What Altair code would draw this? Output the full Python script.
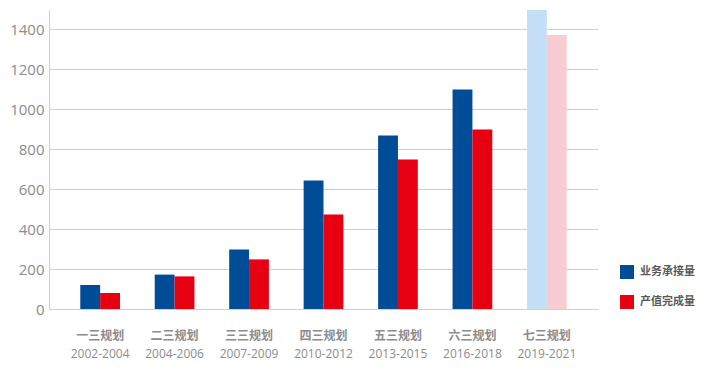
import altair as alt
import pandas as pd

plans = ["一三规划", "二三规划", "三三规划", "四三规划", "五三规划", "六三规划", "七三规划"]
years = ["2002-2004", "2004-2006", "2007-2009", "2010-2012", "2013-2015", "2016-2018", "2019-2021"]
series = ["业务承接量", "产值完成量"]
undertaken = [120, 172, 297, 643, 867, 1097, 1495]
completed = [80, 163, 248, 472, 748, 897, 1370]
forecast = [False, False, False, False, False, False, True]

rows = []
for i, p in enumerate(plans):
    for s, vals in zip(series, [undertaken, completed]):
        key = s + ("_f" if forecast[i] else "")
        rows.append({"plan": p, "years": years[i], "series": s, "value": vals[i], "ckey": key})
df = pd.DataFrame(rows)
df_lab = pd.DataFrame({"plan": plans, "years": years})

xscale = alt.Scale(paddingInner=0.4667, paddingOuter=0.42)

bars = alt.Chart(df).mark_bar().encode(
    x=alt.X("plan:N", sort=plans, title=None, scale=xscale,
            axis=alt.Axis(labelAngle=0,
                          labelFont="Noto Sans CJK SC", labelFontSize=12, labelFontWeight="bold",
                          labelColor="#8c8c8c", labelPadding=21,
                          ticks=False, domainColor="#d0d0d0", domainWidth=1)),
    xOffset=alt.XOffset("series:N", sort=series),
    y=alt.Y("value:Q", title=None,
            scale=alt.Scale(domain=[0, 1500], nice=False),
            axis=alt.Axis(values=[0, 200, 400, 600, 800, 1000, 1200, 1400], format="d",
                          labelFont="Open Sans", labelFontSize=15, labelColor="#8c8c8c",
                          labelPadding=5, ticks=False, domainColor="#d0d0d0",
                          gridColor="#d0d0d0", gridWidth=1)),
    color=alt.Color("ckey:N",
                    scale=alt.Scale(domain=["业务承接量", "产值完成量", "业务承接量_f", "产值完成量_f"],
                                    range=["#004c97", "#e60012", "#c5dff8", "#f8cdd2"]),
                    legend=alt.Legend(values=["业务承接量", "产值完成量"], title=None,
                                      orient="none", legendX=571, legendY=256,
                                      symbolType="square", symbolSize=196, symbolStrokeWidth=0,
                                      labelFont="Noto Sans CJK SC", labelFontSize=11,
                                      labelFontWeight="bold", labelColor="#595959",
                                      rowPadding=16, labelOffset=6, padding=0)),
)

year_text = alt.Chart(df_lab).mark_text(
    font="Open Sans", fontSize=12, color="#8c8c8c", baseline="middle"
).encode(
    x=alt.X("plan:N", sort=plans, scale=xscale),
    y=alt.value(345),
    text="years:N",
)

chart = alt.layer(bars, year_text).properties(
    width=549, height=300,
    autosize=alt.AutoSizeParams(type="none"),
    padding={"left": 41, "top": 1, "right": 99, "bottom": 53},
).configure_view(stroke=None)

chart.save("out.html", embed_options={"renderer": "svg", "actions": False})
